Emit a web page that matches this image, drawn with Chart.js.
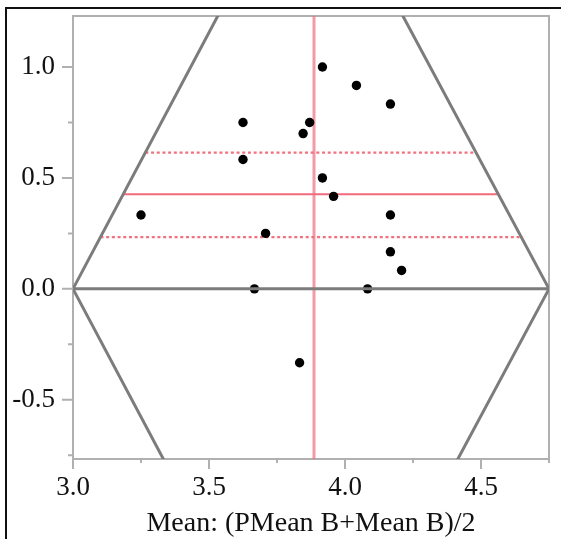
<!DOCTYPE html>
<html>
<head>
<meta charset="utf-8">
<script src="https://cdn.jsdelivr.net/npm/chart.js@4"></script>
<style>
  html, body { margin: 0; padding: 0; background: #fff; }
  #wrap { position: relative; width: 561px; height: 539px; overflow: hidden; }
  #frame { position: absolute; left: 5px; top: 7px; width: 600px; height: 600px;
           border-left: 2px solid #111; border-top: 2px solid #111; }
  canvas { position: absolute; left: 0; top: 0; }
</style>
</head>
<body>
<div id="wrap">
  <div id="frame"></div>
  <canvas id="pairsChart" width="561" height="539"></canvas>
</div>
<script>
// each pair: mean of the two scores (x) and their difference (y)
const meanValues = [3.917, 4.042, 4.167, 3.625, 3.87, 3.846, 3.625, 3.917, 3.958, 3.25, 4.167, 3.708, 4.167, 4.208, 3.667, 4.083, 3.833];
const diffValues = [1.0, 0.917, 0.833, 0.75, 0.75, 0.70, 0.583, 0.5, 0.417, 0.333, 0.333, 0.25, 0.167, 0.083, 0, 0, -0.333];

// mean difference with its confidence band, and the mean of the means
const meanOfMeans = 3.886;
const meanDiff = 0.427;
const diffCiUpper = 0.614;
const diffCiLower = 0.233;

// where those horizontal lines stop (they meet the frame lines)
const meanDiffEnds = [3.185, 4.563];
const ciUpperEnds = [3.266, 4.482];
const ciLowerEnds = [3.101, 4.648];

// the slanted frame lines, left and right, plus the zero line
const frameY = [1.5, 0, -1];
const frameLeftX = [3.649, 3.0, 3.433];
const frameRightX = [4.095, 4.75, 4.313];
const zeroLineX = [3.0, 4.75];
const fullSpanY = [-1, 1.5];

const xTicks = [3.0, 3.25, 3.5, 3.75, 4.0, 4.25, 4.5, 4.75];
const yTicks = [-0.75, -0.5, -0.25, 0, 0.25, 0.5, 0.75, 1.0];

const serif = '"Liberation Serif", "Times New Roman", serif';
const isMajor = v => Math.abs(v * 2 - Math.round(v * 2)) < 1e-6;
const pts = (xs, ys) => xs.map((x, i) => ({ x: x, y: ys[i] }));

// plot box and the long/short tick marks
const axisDecor = {
    id: 'axisDecor',
    beforeDatasetsDraw(chart) {
        const { ctx, chartArea: a, scales: { x, y } } = chart;
        ctx.save();
        ctx.strokeStyle = '#b0b0b0';
        ctx.lineWidth = 2;
        ctx.strokeRect(a.left, a.top, a.right - a.left, a.bottom - a.top);
        ctx.beginPath();
        x.ticks.forEach(t => {
            const px = x.getPixelForValue(t.value);
            ctx.moveTo(px, a.bottom);
            ctx.lineTo(px, a.bottom + (isMajor(t.value) ? 10 : 4));
        });
        y.ticks.forEach(t => {
            const py = y.getPixelForValue(t.value);
            ctx.moveTo(a.left, py);
            ctx.lineTo(a.left - (isMajor(t.value) ? 11 : 5), py);
        });
        ctx.stroke();
        ctx.restore();
    }
};

const lineSet = (data, color, width, extra) => Object.assign({
    data: data, showLine: true, borderColor: color, borderWidth: width,
    pointRadius: 0, fill: false, tension: 0
}, extra || {});

new Chart(document.getElementById('pairsChart'), {
    type: 'scatter',
    data: {
        datasets: [
            lineSet(pts(zeroLineX, [0, 0]), '#7c7c7c', 3, { order: 0 }),
            { data: pts(meanValues, diffValues), backgroundColor: '#000', borderWidth: 0, pointRadius: 4.7, order: 1 },
            lineSet(pts(frameLeftX, frameY), '#7c7c7c', 3, { order: 2 }),
            lineSet(pts(frameRightX, frameY), '#7c7c7c', 3, { order: 2 }),
            lineSet(pts([meanOfMeans, meanOfMeans], fullSpanY), 'rgba(240,110,128,0.7)', 3, { order: 3 }),
            lineSet(pts(meanDiffEnds, [meanDiff, meanDiff]), '#f06a7c', 2, { order: 3 }),
            lineSet(pts(ciUpperEnds, [diffCiUpper, diffCiUpper]), '#f2717f', 2.4, { order: 3, borderDash: [3, 2.7] }),
            lineSet(pts(ciLowerEnds, [diffCiLower, diffCiLower]), '#f2717f', 2.4, { order: 3, borderDash: [3, 2.7] })
        ]
    },
    options: {
        responsive: false,
        animation: false,
        layout: { padding: { left: 0, top: 16, right: 12, bottom: 0 } },
        plugins: { legend: { display: false }, tooltip: { enabled: false } },
        scales: {
            x: {
                type: 'linear', min: 3, max: 4.75,
                afterBuildTicks: s => { s.ticks = xTicks.map(v => ({ value: v })); },
                afterFit: s => { s.height = 80; s.paddingLeft = 0; s.paddingRight = 0; },
                grid: { display: false, drawTicks: false },
                border: { display: false },
                ticks: {
                    padding: 13, color: '#111', autoSkip: false, maxRotation: 0,
                    font: { family: serif, size: 27 },
                    callback: v => isMajor(v) ? v.toFixed(1) : ''
                },
                title: {
                    display: true, text: 'Mean: (PMean B+Mean B)/2', color: '#111',
                    font: { family: serif, size: 28, lineHeight: 1 },
                    padding: { top: 0, bottom: 1 }
                }
            },
            y: {
                type: 'linear', min: -0.767, max: 1.23,
                afterBuildTicks: s => { s.ticks = yTicks.map(v => ({ value: v })); },
                afterFit: s => { s.width = 73; s.paddingTop = 0; s.paddingBottom = 0; },
                grid: { display: false, drawTicks: false },
                border: { display: false },
                ticks: {
                    padding: 18, color: '#111', autoSkip: false,
                    font: { family: serif, size: 27 },
                    callback: v => isMajor(v) ? v.toFixed(1) : ''
                }
            }
        }
    },
    plugins: [axisDecor]
});
</script>
</body>
</html>
